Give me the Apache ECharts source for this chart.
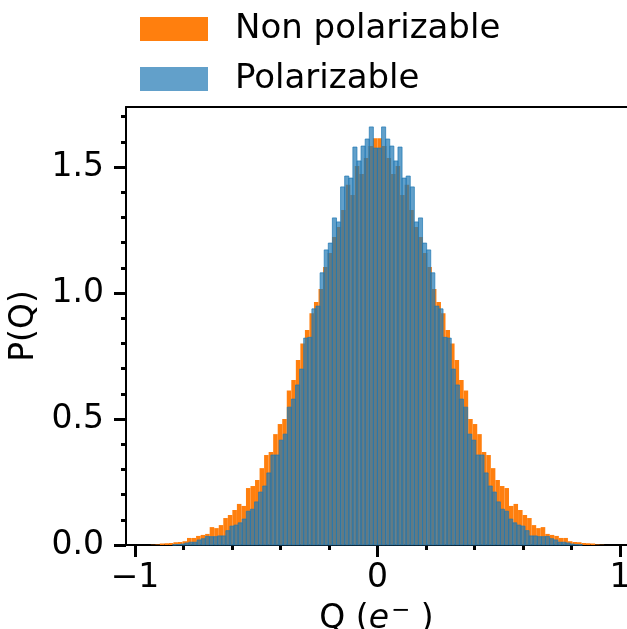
<!DOCTYPE html>
<html>
<head>
<meta charset="utf-8">
<script src="https://cdn.jsdelivr.net/npm/echarts@6/dist/echarts.min.js"></script>
<style>
html,body{margin:0;padding:0;background:#fff;}
#chart{width:627px;height:629px;}
</style>
</head>
<body>
<div id="chart"></div>
<script>
// ---- data ----
const seriesNames = ['Non polarizable', 'Polarizable'];
// histogram bin layout (100 equal bins each)
const orangeBinStart = -0.935, orangeBinWidth = 0.0187;
const blueBinStart = -0.845, blueBinWidth = 0.0169;
// densities P(Q), left to right
const nonPolarizable = [
  0.001, 0.002, 0.006, 0.007, 0.008, 0.011, 0.012, 0.015, 0.028, 0.028,
  0.036, 0.040, 0.044, 0.071, 0.067, 0.079, 0.107, 0.119, 0.139, 0.163,
  0.155, 0.226, 0.234, 0.258, 0.305, 0.357, 0.369, 0.440, 0.480, 0.500,
  0.613, 0.655, 0.734, 0.800, 0.853, 0.920, 0.964, 1.016, 1.103, 1.159,
  1.222, 1.262, 1.329, 1.429, 1.389, 1.504, 1.472, 1.536, 1.583, 1.614,
  1.614, 1.583, 1.536, 1.472, 1.504, 1.389, 1.429, 1.329, 1.262, 1.222,
  1.159, 1.103, 1.016, 0.964, 0.920, 0.853, 0.800, 0.734, 0.655, 0.613,
  0.500, 0.480, 0.440, 0.369, 0.357, 0.305, 0.258, 0.234, 0.226, 0.155,
  0.163, 0.139, 0.119, 0.107, 0.079, 0.067, 0.071, 0.044, 0.040, 0.036,
  0.028, 0.028, 0.015, 0.012, 0.011, 0.008, 0.007, 0.006, 0.002, 0.001
];
const polarizable = [
  0.001, 0.002, 0.004, 0.008, 0.011, 0.011, 0.020, 0.025, 0.034, 0.033,
  0.033, 0.036, 0.036, 0.057, 0.075, 0.079, 0.088, 0.103, 0.134, 0.142,
  0.171, 0.210, 0.234, 0.286, 0.357, 0.357, 0.416, 0.440, 0.547, 0.579,
  0.635, 0.698, 0.821, 0.824, 0.937, 0.948, 1.080, 1.171, 1.198, 1.298,
  1.282, 1.421, 1.464, 1.456, 1.579, 1.524, 1.583, 1.611, 1.659, 1.575,
  1.575, 1.659, 1.611, 1.583, 1.524, 1.579, 1.456, 1.464, 1.421, 1.282,
  1.298, 1.198, 1.171, 1.080, 0.948, 0.937, 0.824, 0.821, 0.698, 0.635,
  0.579, 0.547, 0.440, 0.416, 0.357, 0.357, 0.286, 0.234, 0.210, 0.171,
  0.142, 0.134, 0.103, 0.088, 0.079, 0.075, 0.057, 0.036, 0.036, 0.033,
  0.033, 0.034, 0.025, 0.020, 0.011, 0.011, 0.008, 0.004, 0.002, 0.001
];
const xMajorTicks = [-1, 0, 1];
const xMinorTicks = [-0.8, -0.6, -0.4, -0.2, 0.2, 0.4, 0.6, 0.8];
const yMajorTicks = [0, 0.5, 1.0, 1.5];
const yMinorTicks = [0.1, 0.2, 0.3, 0.4, 0.6, 0.7, 0.8, 0.9, 1.1, 1.2, 1.3, 1.4, 1.6, 1.7];

// ---- build ----
const FONT = 'DejaVu Sans';
function toBins(values, start, width) {
  return values.map((v, i) => [start + i * width, start + (i + 1) * width, v]);
}
function makeRender(style) {
  return function (params, api) {
    const p0 = api.coord([api.value(0), api.value(2)]);
    const p1 = api.coord([api.value(1), 0]);
    return {
      type: 'rect',
      shape: { x: p0[0], y: p0[1], width: p1[0] - p0[0], height: p1[1] - p0[1] },
      style: style
    };
  };
}
const xMin = -1.037, xMax = 1.029, yMin = 0, yMax = 1.738;
const chart = echarts.init(document.getElementById('chart'), null, { renderer: 'canvas' });
const tickStyle = { color: '#000', width: 3 };
chart.setOption({
  animation: false,
  backgroundColor: '#fff',
  textStyle: { fontFamily: FONT },
  grid: { left: 126, right: 0, top: 107, bottom: 84, containLabel: false, outerBoundsMode: 'none' },
  legend: {
    orient: 'vertical', left: 135, top: 6,
    itemWidth: 68, itemHeight: 24, itemGap: 14, icon: 'rect',
    textStyle: { fontSize: 34, fontFamily: FONT, color: '#000', lineHeight: 36, padding: [0, 0, 0, 22] },
    data: [
      { name: seriesNames[0], itemStyle: { color: '#ff7f0e' } },
      { name: seriesNames[1], itemStyle: { color: '#62a0ca' } }
    ]
  },
  xAxis: [
    {
      type: 'value', min: xMin, max: xMax, position: 'bottom',
      name: '{n|Q (}{e|e}{s|−}{n| )}', nameLocation: 'middle', nameGap: 42,
      nameTextStyle: {
        fontSize: 33, fontFamily: FONT, color: '#000',
        rich: {
          n: { fontSize: 33, fontFamily: FONT, color: '#000', lineHeight: 40 },
          e: { fontSize: 33, fontFamily: FONT, fontStyle: 'italic', color: '#000', lineHeight: 40 },
          s: { fontSize: 23, fontFamily: FONT, color: '#000', lineHeight: 23, verticalAlign: 'top', padding: [0, 0, 0, 2] }
        }
      },
      axisLine: { show: true, onZero: false, lineStyle: { color: '#000', width: 2 } },
      axisTick: { show: true, customValues: xMajorTicks, length: 12, lineStyle: tickStyle },
      axisLabel: {
        customValues: xMajorTicks, fontSize: 33, fontFamily: FONT, color: '#000', margin: 17,
        formatter: v => (v < 0 ? '\u2212' + Math.abs(v) : String(v))
      },
      splitLine: { show: false }
    },
    {
      type: 'value', min: xMin, max: xMax, position: 'bottom',
      axisLine: { show: false, onZero: false },
      axisTick: { show: true, customValues: xMinorTicks, length: 5, lineStyle: tickStyle },
      axisLabel: { show: false },
      splitLine: { show: false }
    },
    {
      type: 'value', min: xMin, max: xMax, position: 'top',
      axisLine: { show: true, onZero: false, lineStyle: { color: '#000', width: 2 } },
      axisTick: { show: false }, axisLabel: { show: false }, splitLine: { show: false }
    }
  ],
  yAxis: [
    {
      type: 'value', min: yMin, max: yMax, position: 'left',
      name: 'P(Q)', nameLocation: 'middle', nameGap: 75,
      nameTextStyle: { fontSize: 33, fontFamily: FONT, color: '#000' },
      axisLine: { show: true, onZero: false, lineStyle: { color: '#000', width: 2 } },
      axisTick: { show: true, customValues: yMajorTicks, length: 12, lineStyle: tickStyle },
      axisLabel: {
        customValues: yMajorTicks, fontSize: 33, fontFamily: FONT, color: '#000', margin: 22,
        formatter: v => v.toFixed(1)
      },
      splitLine: { show: false }
    },
    {
      type: 'value', min: yMin, max: yMax, position: 'left',
      axisLine: { show: false, onZero: false },
      axisTick: { show: true, customValues: yMinorTicks, length: 5, lineStyle: tickStyle },
      axisLabel: { show: false },
      splitLine: { show: false }
    }
  ],
  series: [
    {
      name: seriesNames[0], type: 'custom', xAxisIndex: 0, yAxisIndex: 0,
      itemStyle: { color: '#ff7f0e' },
      renderItem: makeRender({ fill: '#ff7f0e' }),
      encode: { x: [0, 1], y: 2 },
      data: toBins(nonPolarizable, orangeBinStart, orangeBinWidth),
      z: 1
    },
    {
      name: seriesNames[1], type: 'custom', xAxisIndex: 0, yAxisIndex: 0,
      itemStyle: { color: '#62a0ca' },
      renderItem: makeRender({ fill: '#1f77b4', stroke: '#1f77b4', lineWidth: 1, opacity: 0.7 }),
      encode: { x: [0, 1], y: 2 },
      data: toBins(polarizable, blueBinStart, blueBinWidth),
      z: 2
    }
  ]
});
</script>
</body>
</html>
